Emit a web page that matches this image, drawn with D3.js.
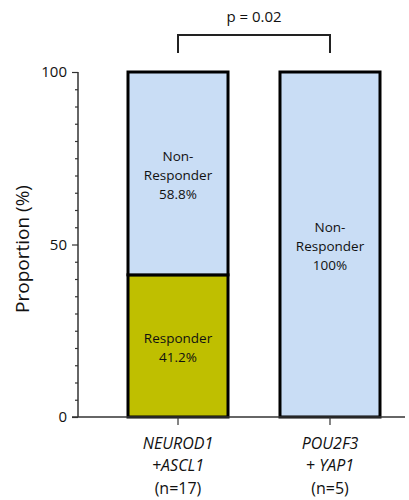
<!DOCTYPE html>
<html><head><meta charset="utf-8">
<script src="https://cdn.jsdelivr.net/npm/d3@7"></script>
<style>body{margin:0;background:#fff}svg{display:block}text{font-family:"Open Sans",sans-serif;fill:#111}</style>
</head><body><svg id="c" width="409" height="500"></svg>
<script>
const categories = [["NEUROD1","+ASCL1","(n=17)"],["POU2F3","+ YAP1","(n=5)"]];
const responder = [41.2, 0];
const nonResponder = [58.8, 100];
const yTicks = [0, 50, 100];
const pLabel = "p = 0.02";

const svg = d3.select("#c");
const x0 = 78, x1 = 405, yTop = 72, yBot = 417;
const y = d3.scaleLinear().domain([0,100]).range([yBot, yTop]);
const x = d3.scaleBand().domain([0,1]).range([128, 380]).paddingInner(0.342).paddingOuter(0);
const blue = "#c9ddf5", olive = "#bfbf00";

// bars
categories.forEach((c,i)=>{
  const bx = x(i), bw = x.bandwidth();
  const segs = [];
  if (responder[i] > 0) segs.push({lo:0, hi:responder[i], col:olive, lines:["Responder", responder[i].toFixed(1)+"%"]});
  segs.push({lo:responder[i], hi:responder[i]+nonResponder[i], col:blue,
    lines: nonResponder[i] === 100 ? ["Non-","Responder","100%"] : ["Non-","Responder", nonResponder[i].toFixed(1)+"%"]});
  segs.forEach(s=>{
    svg.append("rect").attr("x",bx).attr("y",y(s.hi)).attr("width",bw).attr("height",y(s.lo)-y(s.hi))
      .attr("fill",s.col).attr("stroke","#000").attr("stroke-width",3);
    const mid = (y(s.lo)+y(s.hi))/2 + 2;
    const lh = 19;
    s.lines.forEach((t,k)=>{
      svg.append("text").attr("x",bx+bw/2).attr("y",mid + (k-(s.lines.length-1)/2)*lh).attr("dy","0.35em")
        .attr("text-anchor","middle").attr("font-size",13.5).text(t);
    });
  });
});

// y axis
const yAxis = d3.axisLeft(y).tickValues(d3.range(0,101,5)).tickSize(3)
  .tickFormat(d=> yTicks.includes(d) ? d : "");
const gy = svg.append("g").attr("transform",`translate(${x0},0)`).call(yAxis);
gy.select(".domain").attr("stroke","#333").attr("stroke-width",1.5).attr("d",`M0,${yTop}V${yBot}`);
gy.selectAll(".tick line").attr("stroke","#333").attr("stroke-width",1.2)
  .attr("x2", d=> yTicks.includes(d) ? -6 : -3);
gy.selectAll(".tick text").attr("x",-11).attr("font-size",15).attr("font-family","Open Sans").attr("fill","#111");

// x axis
svg.append("line").attr("x1",72).attr("x2",x1).attr("y1",yBot).attr("y2",yBot).attr("stroke","#333").attr("stroke-width",1.5);
categories.forEach((c,i)=>{
  const cx = x(i)+x.bandwidth()/2;
  svg.append("line").attr("x1",cx).attr("x2",cx).attr("y1",yBot).attr("y2",yBot+8).attr("stroke","#333").attr("stroke-width",1.2);
  c.forEach((t,k)=>{
    svg.append("text").attr("x",cx).attr("y",443+k*22.5).attr("dy","0.35em").attr("text-anchor","middle")
      .attr("font-size",16).attr("font-style", k<2 ? "italic":"normal").text(t);
  });
});

// y title
svg.append("text").attr("transform","translate(22,249) rotate(-90)").attr("dy","0.35em").attr("text-anchor","middle")
  .attr("font-size",19).text("Proportion (%)");

// bracket
const bxA = x(0)+x.bandwidth()/2, bxB = x(1)+x.bandwidth()/2;
svg.append("path").attr("d",`M${bxA},53V35H${bxB}V53`).attr("fill","none").attr("stroke","#222").attr("stroke-width",2);
svg.append("text").attr("x",(bxA+bxB)/2).attr("y",17).attr("dy","0.35em").attr("text-anchor","middle").attr("font-size",15).text(pLabel);
</script></body></html>
